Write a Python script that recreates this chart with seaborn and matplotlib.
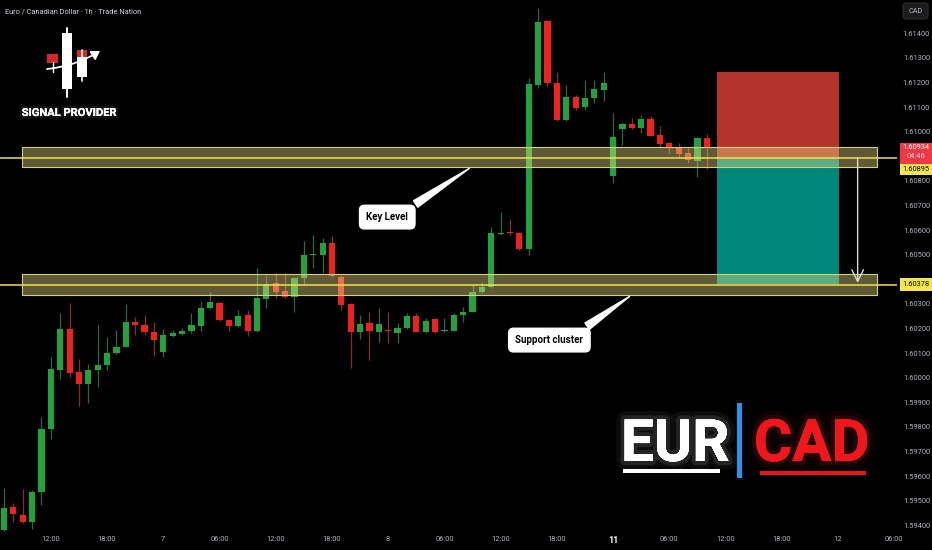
import numpy as np
import pandas as pd
import matplotlib
matplotlib.use("Agg")
import matplotlib.pyplot as plt
import seaborn as sns
from matplotlib.patches import Rectangle, FancyBboxPatch
import matplotlib.patheffects as pe
from matplotlib.transforms import blended_transform_factory, Bbox

# ---------------- data ----------------
opens = [1.59381, 1.59473, 1.59441, 1.59415, 1.59535, 1.59791, 1.60032, 1.60198, 1.60024, 1.59974,
         1.60031, 1.60053, 1.60100, 1.60126, 1.60225, 1.60215, 1.60185, 1.60103, 1.60171, 1.60178,
         1.60190, 1.60212, 1.60282, 1.60305, 1.60234, 1.60210, 1.60253, 1.60191, 1.60321, 1.60384,
         1.60351, 1.60327, 1.60404, 1.60497, 1.60499, 1.60549, 1.60411, 1.60300, 1.60187, 1.60221,
         1.60187, 1.60194, 1.60183, 1.60201, 1.60251, 1.60187, 1.60238, 1.60189, 1.60191, 1.60255,
         1.60268, 1.60350, 1.60367, 1.60584, 1.60591, 1.60589, 1.60522, 1.61190, 1.61451, 1.61197,
         1.61048, 1.61142, 1.61099, 1.61136, 1.61170, 1.60820, 1.61010, 1.61031, 1.61014, 1.61050,
         1.60988, 1.60953, 1.60933, 1.60912, 1.60882, 1.60976]
highs = [1.59550, 1.59492, 1.59546, 1.59543, 1.59841, 1.60085, 1.60264, 1.60305, 1.60076, 1.60056,
         1.60214, 1.60164, 1.60194, 1.60300, 1.60246, 1.60255, 1.60225, 1.60197, 1.60194, 1.60201,
         1.60262, 1.60312, 1.60350, 1.60308, 1.60238, 1.60275, 1.60275, 1.60445, 1.60413, 1.60424,
         1.60424, 1.60406, 1.60557, 1.60580, 1.60567, 1.60576, 1.60418, 1.60304, 1.60255, 1.60268,
         1.60282, 1.60266, 1.60224, 1.60262, 1.60262, 1.60241, 1.60241, 1.60241, 1.60262, 1.60289,
         1.60377, 1.60390, 1.60614, 1.60672, 1.60644, 1.60592, 1.61217, 1.61502, 1.61454, 1.61244,
         1.61190, 1.61149, 1.61210, 1.61210, 1.61244, 1.61075, 1.61041, 1.61054, 1.61068, 1.61064,
         1.61023, 1.60955, 1.60953, 1.60933, 1.60980, 1.60989]
lows = [1.59373, 1.59415, 1.59408, 1.59384, 1.59482, 1.59750, 1.59994, 1.60002, 1.59885, 1.59898,
        1.59961, 1.60031, 1.60096, 1.60124, 1.60174, 1.60174, 1.60089, 1.60083, 1.60167, 1.60174,
        1.60182, 1.60190, 1.60278, 1.60230, 1.60190, 1.60207, 1.60170, 1.60186, 1.60285, 1.60323,
        1.60325, 1.60268, 1.60377, 1.60447, 1.60424, 1.60410, 1.60275, 1.60039, 1.60156, 1.60072,
        1.60146, 1.60140, 1.60140, 1.60199, 1.60185, 1.60180, 1.60180, 1.60187, 1.60189, 1.60228,
        1.60266, 1.60343, 1.60363, 1.60580, 1.60580, 1.60520, 1.60499, 1.61176, 1.61180, 1.61045,
        1.61045, 1.61088, 1.61088, 1.61115, 1.61125, 1.60793, 1.60946, 1.61012, 1.60996, 1.60982,
        1.60939, 1.60915, 1.60892, 1.60874, 1.60817, 1.60847]
closes = [1.59469, 1.59445, 1.59415, 1.59535, 1.59791, 1.60034, 1.60198, 1.60020, 1.59974, 1.60031,
          1.60053, 1.60100, 1.60126, 1.60225, 1.60215, 1.60185, 1.60153, 1.60174, 1.60180, 1.60190,
          1.60213, 1.60283, 1.60308, 1.60233, 1.60210, 1.60252, 1.60191, 1.60324, 1.60381, 1.60350,
          1.60327, 1.60404, 1.60499, 1.60501, 1.60546, 1.60413, 1.60296, 1.60185, 1.60218, 1.60190,
          1.60218, 1.60190, 1.60201, 1.60251, 1.60187, 1.60232, 1.60187, 1.60193, 1.60255, 1.60268,
          1.60350, 1.60367, 1.60587, 1.60589, 1.60587, 1.60522, 1.61194, 1.61447, 1.61197, 1.61048,
          1.61140, 1.61098, 1.61136, 1.61172, 1.61199, 1.60980, 1.61031, 1.61014, 1.61050, 1.60984,
          1.60950, 1.60933, 1.60909, 1.60885, 1.60973, 1.60934]

time_tick_idx = [5, 11, 17, 23, 29, 35, 41, 47, 53, 59, 65, 71, 77, 83, 89, 95]
time_tick_labels = ["12:00", "18:00", "7", "06:00", "12:00", "18:00", "8", "06:00",
                    "12:00", "18:00", "11", "06:00", "12:00", "18:00", "12", "06:00"]
price_ticks = [1.594, 1.595, 1.596, 1.597, 1.598, 1.599, 1.600, 1.601, 1.602, 1.603,
               1.605, 1.606, 1.607, 1.608, 1.610, 1.611, 1.612, 1.613, 1.614]

zone_low = [1.60855, 1.60337]
zone_high = [1.60937, 1.60422]
zone_level = [1.60895, 1.60378]
zone_start, zone_end = 1.92, 93.2

entry_price = 1.60895
stop_price = 1.61243
target_price = 1.60381
pos_start, pos_end = 76.1, 89.1
last_price = 1.60934

df = pd.DataFrame({"open": opens, "high": highs, "low": lows, "close": closes})
df["idx"] = np.arange(len(df))

# ---------------- style ----------------
sns.set_theme(style="dark", rc={"axes.facecolor": "black", "figure.facecolor": "black",
                                "axes.edgecolor": "black", "axes.grid": False})
plt.rcParams['font.family'] = ['Roboto', 'DejaVu Sans']

fig = plt.figure(figsize=(9.32, 5.50), dpi=100, facecolor="black")
ax = fig.add_axes([0, 1 - 532 / 550, 897 / 932, 532 / 550])
ax.set_facecolor("black")

GREEN = "#1fa33b"
RED = "#f2201c"
up = df["close"] >= df["open"]
wick_cols = np.where(up, "#236b3e", "#8c2b2b")
body_cols = np.where(up, GREEN, RED)

ax.vlines(df["idx"], df["low"], df["high"], colors=wick_cols, lw=0.9, zorder=2)
body_lo = np.minimum(df["open"], df["close"])
body_h = np.maximum((df["close"] - df["open"]).abs(), 0.00003)
sns.despine(ax=ax, left=True, bottom=True, right=True, top=True)
ax.bar(df["idx"], body_h, bottom=body_lo, width=0.66, color=body_cols, lw=0, zorder=3)

# position boxes
ax.add_patch(Rectangle((pos_start, entry_price), pos_end - pos_start, stop_price - entry_price,
                       fc="#b3342c", ec="none", zorder=1.5))
ax.add_patch(Rectangle((pos_start, target_price), pos_end - pos_start, entry_price - target_price,
                       fc="#00877a", ec="none", zorder=1.5))

# zones
for lo, hi, lv in zip(zone_low, zone_high, zone_level):
    ax.add_patch(Rectangle((zone_start, lo), zone_end - zone_start, hi - lo,
                           fc="#ece18c", alpha=0.40, ec="none", zorder=4))
    ax.add_patch(Rectangle((zone_start, lo), zone_end - zone_start, hi - lo,
                           fc="none", ec="#d9d06a", lw=0.8, zorder=4.1))
    ax.axhline(lv, color="#f2e24a", lw=1.1, zorder=5)

# target arrow
ax.annotate("", xy=(91.1, target_price + 0.00004), xytext=(91.1, entry_price),
            arrowprops=dict(arrowstyle="->,head_length=0.7,head_width=0.35", color="#d8d8d8",
                            lw=1.0, shrinkA=0, shrinkB=0), zorder=6)

# callouts
for txt, xy, xyt in [("Key Level", (49.9, 1.60857), (40.9, 1.60653)),
                     ("Support cluster", (67.0, 1.60337), (58.2, 1.60153))]:
    ax.annotate(txt, xy=xy, xytext=xyt, ha="center", va="center", fontsize=7,
                fontweight="bold", color="black",
                bbox=dict(boxstyle="round,pad=0.7,rounding_size=0.5", fc="white", ec="white"),
                arrowprops=dict(arrowstyle="wedge,tail_width=0.8,shrink_factor=0.5",
                                fc="white", ec="white", relpos=(0.85, 0.9)),
                zorder=7)

ax.set_xlim(-0.427, 95.3)
ax.set_ylim(1.593728, 1.615354)

# axes ticks
ax.yaxis.tick_right()
ax.set_yticks(price_ticks)
ax.set_yticklabels([f"{t:.5f}" for t in price_ticks])
ax.set_xticks(time_tick_idx)
ax.set_xticklabels(time_tick_labels)
ax.tick_params(axis="both", length=0, labelsize=5.4, labelcolor="#b2b5be")
ax.tick_params(axis="y", pad=14)
ax.tick_params(axis="x", pad=3)
for lab in ax.get_yticklabels():
    lab.set_horizontalalignment("center")
clipbox = Bbox.from_extents(0, 0, 902, 550)
for lab in ax.get_xticklabels():
    lab.set_clip_box(clipbox)
    lab.set_clip_on(True)
    if lab.get_text() == "11":
        lab.set_fontweight("bold")
        lab.set_color("white")
        lab.set_fontsize(6.5)
ax.grid(False)

# price labels on scale
trans = blended_transform_factory(ax.transAxes, ax.transData)
x0 = 900 / 897
wbox = 32 / 897
ax.add_patch(Rectangle((x0, 1.60867), wbox, 1.60956 - 1.60867, transform=trans,
                       fc="#f23645", ec="none", clip_on=False, zorder=8))
ax.text(x0 + wbox / 2, last_price, f"{last_price:.5f}", transform=trans, ha="center", va="center",
        fontsize=5.4, color="white", clip_on=False, zorder=9)
ax.text(x0 + wbox / 2, 1.60899, "04:46", transform=trans, ha="center", va="center",
        fontsize=5.4, color="#ffd7d7", clip_on=False, zorder=9)
ax.add_patch(Rectangle((x0, 1.60823), wbox, 1.60867 - 1.60823, transform=trans,
                       fc="#f6e64a", ec="none", clip_on=False, zorder=8))
ax.text(x0 + wbox / 2, 1.60845, f"{zone_level[0]:.5f}", transform=trans, ha="center", va="center",
        fontsize=5.4, color="black", clip_on=False, zorder=9)
ax.add_patch(Rectangle((x0, zone_level[1] - 0.00027), wbox, 0.00054, transform=trans,
                       fc="#f6e64a", ec="none", clip_on=False, zorder=8))
ax.text(x0 + wbox / 2, zone_level[1], f"{zone_level[1]:.5f}", transform=trans, ha="center",
        va="center", fontsize=5.4, color="black", clip_on=False, zorder=9)

# ---------------- overlay decorations (figure pixels) ----------------
ov = fig.add_axes([0, 0, 1, 1], zorder=5)
ov.set_xlim(0, 932)
ov.set_ylim(550, 0)
ov.axis("off")
ov.patch.set_alpha(0)

ov.text(5, 12, "Euro / Canadian Dollar · 1h · Trade Nation", fontsize=5.3, color="#d1d4dc",
        va="center", ha="left")
ov.add_patch(FancyBboxPatch((903, 3), 25, 16, boxstyle="round,pad=0,rounding_size=3",
                            fc="#1b1b1b", ec="#2e2e2e", lw=0.8))
ov.text(915.5, 11.5, "CAD", fontsize=5.3, color="#b2b5be", ha="center", va="center")

# logo
ov.plot([67, 67], [28, 97], color="white", lw=1.4)
ov.add_patch(Rectangle((62, 33), 10, 56, fc="white", ec="none"))
ov.plot([82, 82], [50, 81], color="white", lw=1.2)
ov.add_patch(Rectangle((77, 57), 10, 20, fc="white", ec="none"))
ov.add_patch(Rectangle((77, 50), 10, 7, fc="#d8282a", ec="none"))
ov.plot([53, 53], [62, 72], color="white", lw=1.0)
ov.add_patch(Rectangle((47, 54), 11, 9, fc="#d8282a", ec="none"))
ov.annotate("", xy=(100, 51), xytext=(47, 69),
            arrowprops=dict(arrowstyle="-|>,head_length=0.4,head_width=0.25", color="white",
                            lw=1.3, connectionstyle="arc3,rad=0.12", shrinkA=0, shrinkB=0))
ov.text(69, 113, "SIGNAL PROVIDER", fontsize=8, fontweight="bold", color="white",
        ha="center", va="center",
        path_effects=[pe.withStroke(linewidth=3, foreground=(1, 1, 1, 0.08)), pe.Normal()])

# EUR | CAD
big = dict(fontsize=42, fontweight="bold", va="baseline", ha="left")
ov.text(621, 461, "EUR", color="white",
        path_effects=[pe.withStroke(linewidth=12, foreground=(1, 1, 1, 0.05)),
                      pe.withStroke(linewidth=6, foreground=(1, 1, 1, 0.10)), pe.Normal()], **big)
ov.text(754, 461, "CAD", color="#f0161c",
        path_effects=[pe.withStroke(linewidth=12, foreground=(1, 0.2, 0.2, 0.05)),
                      pe.withStroke(linewidth=6, foreground=(1, 0.2, 0.2, 0.10)), pe.Normal()], **big)
ov.add_patch(Rectangle((623, 469), 97, 4, fc="white", ec="none"))
ov.add_patch(Rectangle((760, 471), 106, 4, fc="#e8141a", ec="none"))
ov.add_patch(Rectangle((737, 403), 5, 75, fc="#2196f3", ec="none"))

fig.savefig("out.png", dpi=100, facecolor="black")
